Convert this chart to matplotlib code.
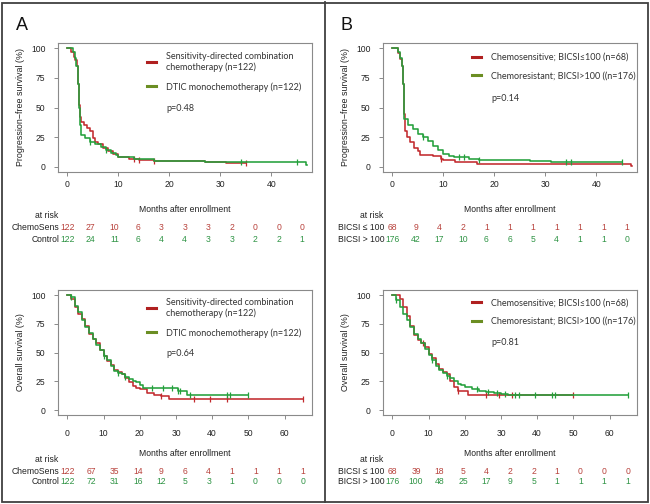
import numpy as np
import matplotlib.pyplot as plt
import matplotlib.transforms as mtransforms
from matplotlib.lines import Line2D
from matplotlib.patches import Rectangle

# ============================================================
# 1. Data
# ============================================================

# Panel A, progression-free survival
pfs_a_red_t = [0, 0.8, 1.2, 1.5, 1.8, 2.0, 2.2, 2.4, 2.7, 3.3, 3.8, 4.5, 5.0, 5.5, 6.0, 7.0,
               8.0, 9.0, 10.0, 12.0, 14.0, 17.0, 27.0, 31.0, 35.0]
pfs_a_red_s = [100, 97, 93, 90, 85, 70, 52, 42, 38, 35, 33, 30, 24, 21, 19, 16,
               13, 11, 8, 7, 6, 5, 4.5, 3, 3]
pfs_a_red_cens = [13, 14, 17, 35]
pfs_a_grn_t = [0, 1.0, 1.4, 1.7, 2.0, 2.2, 2.4, 2.6, 3.5, 4.5, 5.5, 6.5, 7.5, 8.5, 9.5, 10,
               13, 17, 27, 46.8, 47]
pfs_a_grn_s = [100, 97, 92, 85, 70, 50, 35, 27, 24, 21, 19, 17, 14, 12, 10, 8,
               7, 5, 4, 1.5, 1.5]
pfs_a_grn_cens = [4.5, 7.5, 34, 45]

# Panel B, progression-free survival
pfs_b_red_t = [0, 1.0, 1.5, 1.8, 2.0, 2.2, 2.4, 2.8, 3.5, 4.3, 5.0, 5.5, 8.0, 9.5, 10.0,
               12.3, 16.5, 46.8, 47]
pfs_b_red_s = [100, 96, 91, 85, 70, 45, 30, 25, 21, 16, 13, 10, 9, 7, 6,
               4, 2.5, 1, 1]
pfs_b_red_cens = [9.5]
pfs_b_grn_t = [0, 1.0, 1.5, 1.8, 2.0, 2.3, 3.0, 4.0, 5.0, 6.0, 7.0, 8.0, 9.0, 10.0, 11.0,
               12.0, 15.0, 17.0, 27.0, 31.0, 45.0]
pfs_b_grn_s = [100, 97, 92, 85, 70, 40, 35, 32, 28, 25, 22, 18, 14, 11, 9,
               8, 7, 6, 5, 4, 4]
pfs_b_grn_cens = [6, 13, 14, 17, 34, 35, 45]

# Panel A, overall survival
os_a_red_t = [0, 1, 2, 3, 4, 5, 6, 7, 8, 9, 10, 11, 12, 13, 14, 15, 16, 17, 18, 19, 20,
              22, 24, 26, 28, 65]
os_a_red_s = [100, 97, 90, 84, 79, 73, 66, 62, 58, 52, 47, 43, 39, 35, 33, 31, 28, 24, 21,
              19, 18, 15, 13, 12, 10, 10]
os_a_red_cens = [26, 35, 39.5, 44, 65]
os_a_grn_t = [0, 1, 2, 3, 4, 5, 6, 7, 8, 9, 10, 11, 12, 13, 14, 15, 16, 17, 18, 19, 20,
              21, 30.5, 33, 50]
os_a_grn_s = [100, 98, 91, 85, 78, 72, 67, 62, 57, 52, 47, 44, 38, 34, 32, 31, 29, 27, 25,
              24, 22, 19, 17, 13, 13]
os_a_grn_cens = [1, 10, 14, 16, 23.5, 26.5, 29, 30.5, 31, 34, 44, 45, 50]

# Panel B, overall survival
os_b_red_t = [0, 2, 3, 4, 5, 6, 7, 8, 9, 10, 11, 12, 13, 14, 15, 16, 17, 18, 21, 50]
os_b_red_s = [100, 97, 90, 82, 73, 65, 61, 58, 55, 49, 45, 40, 36, 33, 31, 25, 20, 17, 13, 13]
os_b_red_cens = [8.5, 18, 26, 29.5, 33, 50]
os_b_grn_t = [0, 1, 2, 3, 4, 5, 6, 7, 8, 9, 10, 11, 12, 13, 14, 15, 16, 17, 18, 19, 20,
              22, 24, 26, 28, 30, 32, 65]
os_b_grn_s = [100, 96, 90, 84, 78, 72, 66, 62, 58, 53, 48, 44, 38, 35, 32, 30, 28, 25, 23,
              22, 20, 18, 17, 16, 15, 14, 13, 13]
os_b_grn_cens = [1, 11, 15, 23.5, 26.5, 29, 31, 34, 35, 39.5, 44, 45, 65]

# Numbers at risk
risk_pfs_a = ([122, 27, 10, 6, 3, 3, 3, 2, 0, 0, 0], [122, 24, 11, 6, 4, 4, 3, 3, 2, 2, 1])
risk_pfs_b = ([68, 9, 4, 2, 1, 1, 1, 1, 1, 1, 1], [176, 42, 17, 10, 6, 6, 5, 4, 1, 1, 0])
risk_os_a = ([122, 67, 35, 14, 9, 6, 4, 1, 1, 1, 1], [122, 72, 31, 16, 12, 5, 3, 1, 0, 0, 0])
risk_os_b = ([68, 39, 18, 5, 4, 2, 2, 1, 0, 0, 0], [176, 100, 48, 25, 17, 9, 5, 1, 1, 1, 1])

risk_labels_a = ["ChemoSens", "Control"]
risk_labels_b = ["BICSI \u2264 100", "BICSI > 100"]

legend_a = ["Sensitivity-directed combination\nchemotherapy (n=122)", "DTIC monochemotherapy (n=122)"]
legend_b = ["Chemosensitive; BICSI\u2264100 (n=68)", "Chemoresistant; BICSI>100 ((n=176)"]

# ============================================================
# 2. Style
# ============================================================

RED = "#c22a2e"
GREEN = "#24a03c"
RED_LEG = "#b02020"
GREEN_LEG = "#6b8e23"
RED_TXT = "#b8423c"
GREEN_TXT = "#2f9445"
BOX = "#8a8a8a"
TXT = "#222222"
LEG_FONT = {"family": ["Lato", "DejaVu Sans"], "size": 6.5}

W, H = 650, 504
plt.rcParams["font.family"] = ["Liberation Sans", "DejaVu Sans"]
plt.rcParams["font.size"] = 6.2

fig = plt.figure(figsize=(W / 100, H / 100), dpi=100)


def fy(ypix):
    return 1 - ypix / H


def box(l, t, r, b):
    return [l / W, 1 - b / H, (r - l) / W, (b - t) / H]


def step_at(t, s, c):
    i = np.searchsorted(np.asarray(t), c, side="right") - 1
    return np.asarray(s)[i]


def km(ax, t, s, cens, color):
    ax.step(t, s, where="post", color=color, lw=1.15, zorder=3)
    cy = [step_at(t, s, c) for c in cens]
    ax.plot(cens, cy, ls="none", marker="|", ms=5, mew=0.9, color=color, zorder=3)


def panel(pos, xmax, xticks, curves, ylab, leg_labels, leg_top, pval, p_y,
          risk, risk_labels, rows_y, risk_end, xpad):
    ax = fig.add_axes(box(*pos))
    (rt, rs, rc), (gt, gs, gc) = curves
    km(ax, rt, rs, rc, RED)
    km(ax, gt, gs, gc, GREEN)
    ax.set_xlim(-xmax * 0.04, xmax * 1.04)
    ax.set_ylim(-4.3, 104.5)
    ax.set_xticks(xticks)
    ax.set_yticks([0, 25, 50, 75, 100])
    for sp in ax.spines.values():
        sp.set_color(BOX)
        sp.set_linewidth(0.8)
    ax.tick_params(axis="x", direction="out", length=3, width=0.7, color=BOX, pad=xpad, labelcolor=TXT)
    ax.tick_params(axis="y", direction="out", length=3, width=0.7, color=BOX, pad=6, labelcolor=TXT)

    # y label
    tr = mtransforms.blended_transform_factory(fig.transFigure, ax.transAxes)
    ax.text((pos[0] - 37) / W, 0.5, ylab, rotation=90, ha="center", va="center",
            transform=tr, color=TXT, fontsize=6.4)

    # legend
    handles = [Line2D([], [], color=RED_LEG, lw=2.2), Line2D([], [], color=GREEN_LEG, lw=2.2)]
    ax.legend(handles, leg_labels, loc="upper left", bbox_to_anchor=(0.35, leg_top),
              frameon=False, handlelength=1.0, handletextpad=1.1, labelspacing=1.1,
              borderpad=0, borderaxespad=0, prop=LEG_FONT, labelcolor="#333333")
    ax.text(0.425, p_y, pval, transform=ax.transAxes, ha="left", va="center",
            family=LEG_FONT["family"], fontsize=LEG_FONT["size"], color="#333333")

    # x label and numbers at risk
    bt = mtransforms.blended_transform_factory(ax.transAxes, fig.transFigure)
    ax.text(0.5, fy(rows_y[0]), "Months after enrollment", transform=bt,
            ha="center", va="center", color=TXT)
    dt = mtransforms.blended_transform_factory(ax.transData, fig.transFigure)
    ax.text(-xmax * 0.04, fy(rows_y[1]), "at risk", transform=dt, ha="right", va="center", color=TXT)
    times = np.linspace(0, risk_end, len(risk[0]))
    for row, lab, col, yp in zip(risk, risk_labels, [RED_TXT, GREEN_TXT], rows_y[2:]):
        ax.text(-xmax * 0.035, fy(yp), lab, transform=dt, ha="right", va="center", color=TXT)
        for x, n in zip(times, row):
            ax.text(x, fy(yp), str(n), transform=dt, ha="center", va="center", color=col)
    return ax


panel((58, 43, 312, 172), 46.1, [0, 10, 20, 30, 40],
      [(pfs_a_red_t, pfs_a_red_s, pfs_a_red_cens), (pfs_a_grn_t, pfs_a_grn_s, pfs_a_grn_cens)],
      "Progression\u2212free survival (%)", legend_a, 0.93, "p=0.48", 0.496,
      risk_pfs_a, risk_labels_a, (209, 215, 227, 239), 46, 3)
panel((383, 43, 637, 172), 46.1, [0, 10, 20, 30, 40],
      [(pfs_b_red_t, pfs_b_red_s, pfs_b_red_cens), (pfs_b_grn_t, pfs_b_grn_s, pfs_b_grn_cens)],
      "Progression\u2212free survival (%)", legend_b, 0.925, "p=0.14", 0.566,
      risk_pfs_b, risk_labels_b, (209, 215, 227, 239), 46, 3)
panel((58, 290, 312, 415), 65, [0, 10, 20, 30, 40, 50, 60],
      [(os_a_red_t, os_a_red_s, os_a_red_cens), (os_a_grn_t, os_a_grn_s, os_a_grn_cens)],
      "Overall survival (%)", legend_a, 0.935, "p=0.64", 0.488,
      risk_os_a, risk_labels_a, (454, 460, 472, 482), 65, 7)
panel((383, 290, 637, 415), 65, [0, 10, 20, 30, 40, 50, 60],
      [(os_b_red_t, os_b_red_s, os_b_red_cens), (os_b_grn_t, os_b_grn_s, os_b_grn_cens)],
      "Overall survival (%)", legend_b, 0.935, "p=0.81", 0.578,
      risk_os_b, risk_labels_b, (454, 460, 472, 482), 65, 7)

# panel letters
fig.text(22 / W, fy(25), "A", ha="center", va="center", fontsize=13, color="#111111")
fig.text(347 / W, fy(25), "B", ha="center", va="center", fontsize=13, color="#111111")

# outer frame and divider
fig.add_artist(Rectangle((2 / W, 2 / H), (W - 4) / W, (H - 5) / H, transform=fig.transFigure,
                         fill=False, edgecolor="#404040", lw=1.3))
fig.add_artist(Line2D([325 / W, 325 / W], [2 / H, 1 - 2 / H], transform=fig.transFigure,
                      color="#404040", lw=1.3))

fig.savefig("out.png", dpi=100)
